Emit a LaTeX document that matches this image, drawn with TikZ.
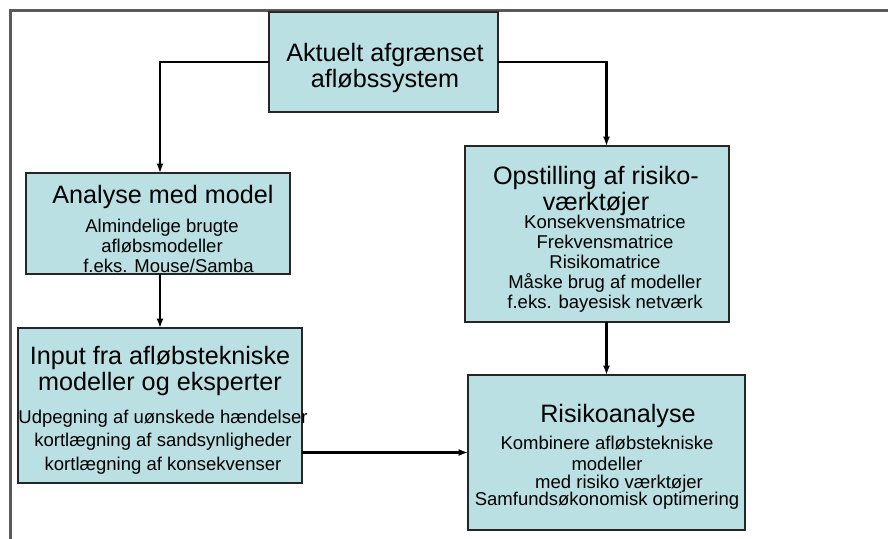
\documentclass[tikz,border=0pt]{standalone}
\usepackage{fontspec}
\setmainfont{Liberation Sans}
\usetikzlibrary{arrows.meta, positioning, calc}

\definecolor{boxblue}{RGB}{187,224,227}
\definecolor{framegray}{RGB}{90,90,90}

\tikzset{
  box/.style={rectangle, draw=black!85, line width=0.9pt, fill=boxblue, inner sep=0pt, outer sep=0pt},
  headtxt/.style={align=center, inner sep=0pt, font=\fontsize{21.5}{23}\selectfont},
  bodytxt/.style={align=center, inner sep=0pt, font=\fontsize{15.8}{17}\selectfont},
  flow/.style={-{Latex[length=8pt,width=6pt]}, line width=2pt},
}

\begin{document}
\begin{tikzpicture}[x=0.03cm, y=-0.03cm]
    \useasboundingbox (0,0) rectangle (888,539);

    % frame
    \draw[framegray, line width=2pt] (10.5,539) -- (10.5,10.5) -- (888,10.5);

    % boxes
    \node[box, minimum width=6.87cm, minimum height=3.0cm] (top) at (383.5,62) {};
    \node[box, minimum width=7.92cm, minimum height=3.03cm] (analyse) at (158,223.5) {};
    \node[box, minimum width=8.52cm, minimum height=4.65cm] (input) at (160,405.5) {};
    \node[box, minimum width=7.92cm, minimum height=5.28cm] (opstil) at (597,234) {};
    \node[box, minimum width=8.31cm, minimum height=4.65cm] (risiko) at (606.5,452.5) {};

    % texts
    \node[headtxt] (topT) at (385,68) {Aktuelt afgrænset\\afløbssystem};

    \node[headtxt] (analyseT) at (163,197) {Analyse med model};
    \node[bodytxt] (analyseB) at (162,246) {Almindelige brugte\\afløbsmodeller\\\hspace*{0.7em}f.eks. Mouse/Samba};

    \node[headtxt, font=\fontsize{21.5}{22}\selectfont] (inputT) at (160,371) {Input fra afløbstekniske\\modeller og eksperter};
    \node[bodytxt, font=\fontsize{15.8}{20}\selectfont] (inputB) at (163,442) {Udpegning af uønskede hændelser\\kortlægning af sandsynligheder\\kortlægning af konsekvenser};

    \node[headtxt] (opstilT) at (596,191) {Opstilling af risiko-\\værktøjer};
    \node[bodytxt] (opstilB) at (605,264) {Konsekvensmatrice\\Frekvensmatrice\\Risikomatrice\\Måske brug af modeller\\f.eks. bayesisk netværk};

    \node[headtxt] (risikoT) at (618,416) {Risikoanalyse};
    \node[bodytxt, font=\fontsize{15.8}{15}\selectfont] (risikoB) at (607,473) {Kombinere afløbstekniske\\[3pt]modeller\\\hspace*{1.3em}med risiko værktøjer\\Samfundsøkonomisk optimering};

    % connections
    \draw[flow] (top.west) -| (analyse.north -| input.north);
    \draw[flow] (top.east) -| (risiko.north |- opstil.north);
    \draw[flow] (analyse.south -| input.north) -- (input.north);
    \draw[flow] (opstil.south -| risiko.north) -- (risiko.north);
    \draw[flow] (input.east |- risiko.west) -- (risiko.west);
\end{tikzpicture}
\end{document}
